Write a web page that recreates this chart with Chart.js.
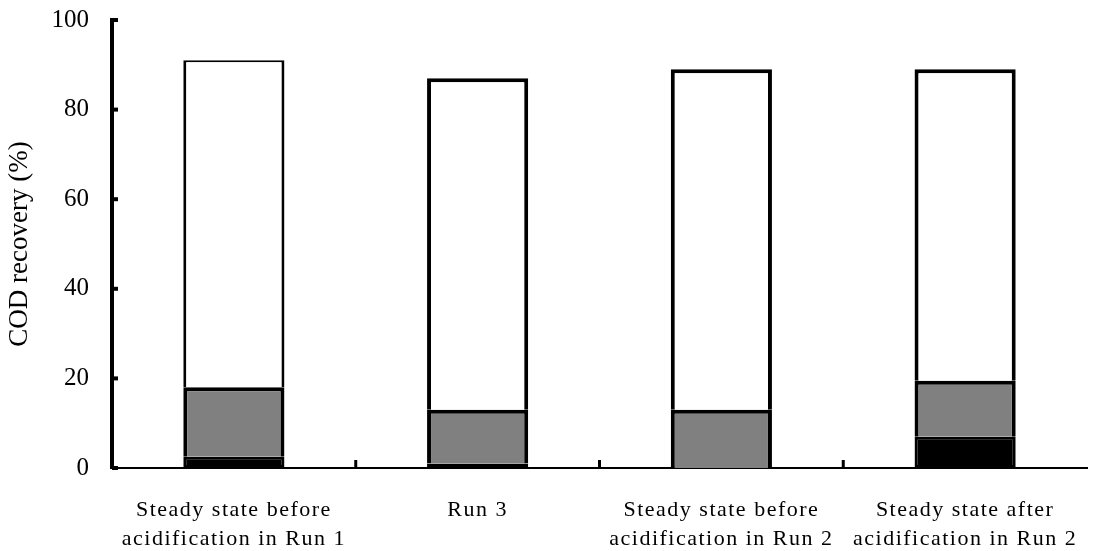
<!DOCTYPE html>
<html>
<head>
<meta charset="utf-8">
<script src="https://cdn.jsdelivr.net/npm/chart.js@4/dist/chart.umd.min.js"></script>
<style>
  html, body { margin: 0; padding: 0; background: #fff; }
  #wrap { width: 1112px; height: 551px; }
</style>
</head>
<body>
<div id="wrap"><canvas id="chart"></canvas></div>
<script>
// categories and stacked segments (COD recovery, %)
const categories = [
    ["Steady state before", "acidification in Run 1"],
    ["Run 3"],
    ["Steady state before", "acidification in Run 2"],
    ["Steady state after", "acidification in Run 2"]
];
const blackPart = [2.5, 1, 0, 7];
const grayPart = [15.5, 12, 13, 12.5];
const whitePart = [73, 74, 76, 69.5];

const yTicks = [0, 20, 40, 60, 80, 100];

// small tick marks: inside on y axis, upward between categories on x axis
const tickMarks = {
    id: "tickMarks",
    afterDatasetsDraw(chart){
        // x labels are drawn after datasets (z:1), widen them a bit
        chart.ctx.letterSpacing = "1.5px";
    },
    afterDraw(chart){
        const ctx = chart.ctx;
        const y = chart.scales.y;
        const x = chart.scales.x;
        ctx.letterSpacing = "0px";
        ctx.save();
        ctx.strokeStyle = "#000";
        ctx.lineWidth = 4;
        yTicks.forEach(v => {
            const py = y.getPixelForValue(v);
            ctx.beginPath();
            ctx.moveTo(x.left, py);
            ctx.lineTo(x.left + 6, py);
            ctx.stroke();
        });
        ctx.lineWidth = 3;
        for(let i = 1; i < categories.length; i++){
            const px = (x.getPixelForValue(i - 1) + x.getPixelForValue(i)) / 2;
            ctx.beginPath();
            ctx.moveTo(px, y.bottom);
            ctx.lineTo(px, y.bottom - 8);
            ctx.stroke();
        }
        ctx.restore();
    }
};

const serif = "'Liberation Serif', 'DejaVu Serif', serif";

const common = {
    borderColor: "#000",
    barPercentage: 0.83,
    categoryPercentage: 0.5
};

new Chart(document.getElementById("chart"), {
    type: "bar",
    data: {
        labels: categories,
        datasets: [
            Object.assign({ data: blackPart, backgroundColor: "#000000", borderWidth: 3, borderSkipped: false }, common),
            Object.assign({ data: grayPart, backgroundColor: "#808080", borderWidth: 4, borderSkipped: "bottom" }, common),
            Object.assign({ data: whitePart, backgroundColor: "#ffffff", borderSkipped: "bottom",
                borderWidth: [{ top: 2, left: 3, right: 3, bottom: 0 }, 4, 4, 4] }, common)
        ]
    },
    options: {
        responsive: true,
        maintainAspectRatio: false,
        animation: false,
        layout: { padding: { top: 20, right: 25, left: 0, bottom: 0 } },
        plugins: {
            legend: { display: false },
            tooltip: { enabled: false }
        },
        scales: {
            x: {
                stacked: true,
                afterFit: s => { s.height = 83; },
                grid: { display: false },
                border: { display: true, color: "#000", width: 2 },
                ticks: {
                    z: 1,
                    color: "#000",
                    padding: 20,
                    font: { family: serif, size: 22, lineHeight: 1.3 },
                    maxRotation: 0
                }
            },
            y: {
                stacked: true,
                min: 0,
                max: 100,
                afterFit: s => { s.width = 112; s.paddingTop = 0; s.paddingBottom = 0; },
                afterBuildTicks: s => { s.ticks = yTicks.map(v => ({ value: v })); },
                grid: { display: false },
                border: { display: true, color: "#000", width: 4 },
                ticks: {
                    color: "#000",
                    padding: 15,
                    font: { family: serif, size: 25 }
                },
                title: {
                    display: true,
                    text: "COD recovery (%)",
                    color: "#000",
                    font: { family: serif, size: 27 },
                    padding: { top: 4, bottom: 0 }
                }
            }
        }
    },
    plugins: [tickMarks]
});
</script>
</body>
</html>
